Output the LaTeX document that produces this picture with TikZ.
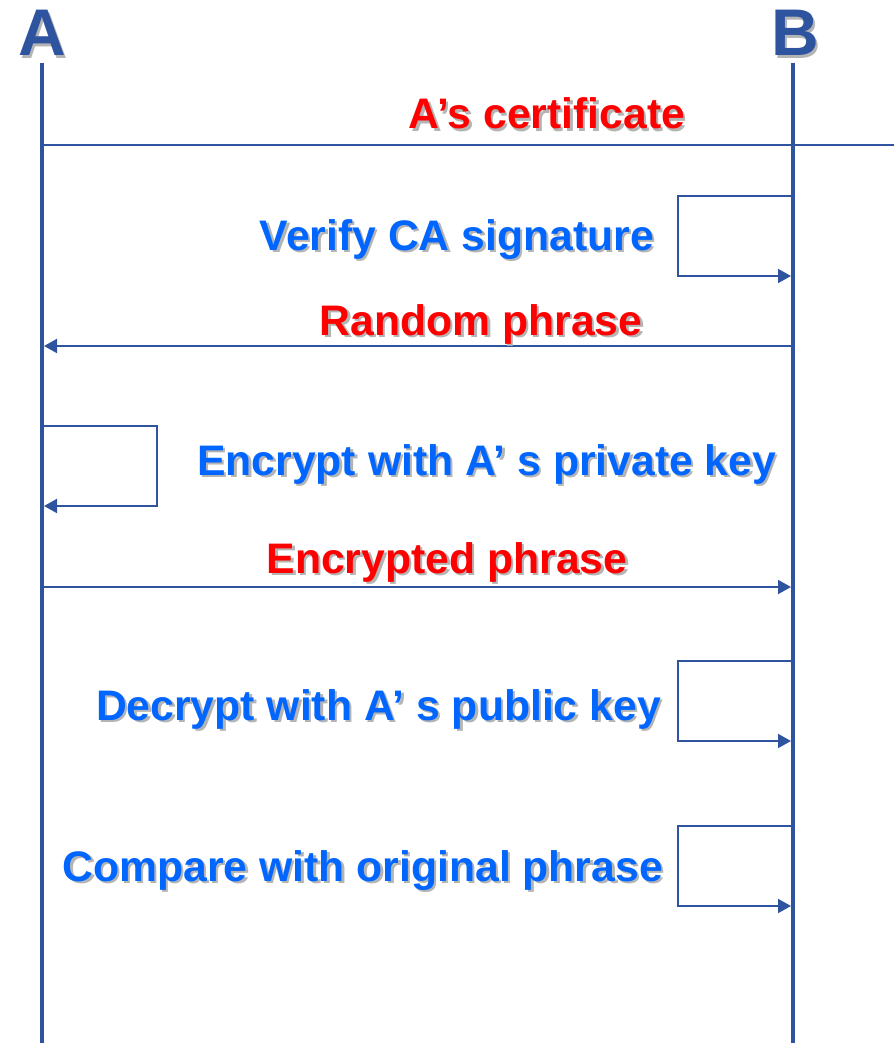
\documentclass[tikz,border=0pt]{standalone}
\usepackage{fontspec}
\setmainfont{Liberation Sans}
\usetikzlibrary{arrows.meta}
\definecolor{lineblue}{RGB}{46,84,160}
\definecolor{textblue}{RGB}{0,102,255}
\definecolor{textred}{RGB}{255,0,0}
\definecolor{shadowgray}{RGB}{180,180,180}
\tikzset{
  lbltext/.style={inner sep=0pt,font=\bfseries\fontsize{42.7}{48}\selectfont},
  headtext/.style={inner sep=0pt,font=\bfseries\fontsize{66}{70}\selectfont},
  lifeline/.style={draw=lineblue,line width=4pt},
  msg/.style={draw=lineblue,line width=2pt},
  msgarrow/.style={msg,-{Triangle[length=13pt,width=14pt]}},
}
\newcommand{\shadowed}[2]{%
  \makebox[0pt][l]{\hspace{2.5pt}\raisebox{-2.5pt}{\textcolor{shadowgray}{#2}}}\textcolor{#1}{#2}}
\newcommand{\lbl}[6]{% name, style, anchor, position, colour, text
  \node[#2,anchor=#3] (#1) at (#4) {\shadowed{#5}{#6}};}
\begin{document}
\begin{tikzpicture}[x=1pt,y=-1pt]
\useasboundingbox (0,0) rectangle (894,1043);
% lifelines
\coordinate (atop) at (42,63);
\coordinate (abot) at (42,1043);
\coordinate (btop) at (793,63);
\coordinate (bbot) at (793,1043);
\draw[lifeline] (atop) -- (abot);
\draw[lifeline] (btop) -- (bbot);
\lbl{hA}{headtext}{base}{42,56}{lineblue}{A}
\lbl{hB}{headtext}{base}{795,56}{lineblue}{B}
% message 1
\coordinate (m1a) at (42,145);
\coordinate (m1e) at (894,145);
\draw[msg] (m1a) -- (m1e);
\lbl{t1}{lbltext}{base}{547,129}{textred}{A’s certificate}
% loop B 1
\coordinate (l1a) at (793,196);
\coordinate (l1b) at (678,196);
\coordinate (l1c) at (678,276);
\coordinate (l1d) at (791,276);
\draw[msgarrow] (l1a) -- (l1b) -- (l1c) -- (l1d);
\lbl{t2}{lbltext}{base east}{654,250}{textblue}{Verify CA signature}
% message 2
\coordinate (m2b) at (793,346);
\coordinate (m2a) at (44,346);
\draw[msgarrow] (m2b) -- (m2a);
\lbl{t3}{lbltext}{base}{481,335}{textred}{Random phrase}
% loop A
\coordinate (la1) at (42,426);
\coordinate (la2) at (157,426);
\coordinate (la3) at (157,506);
\coordinate (la4) at (44,506);
\draw[msgarrow] (la1) -- (la2) -- (la3) -- (la4);
\lbl{t4}{lbltext}{base west}{197,475}{textblue}{Encrypt with A’ s private key}
% message 3
\coordinate (m3a) at (42,587);
\coordinate (m3b) at (791,587);
\draw[msgarrow] (m3a) -- (m3b);
\lbl{t5}{lbltext}{base}{447,573}{textred}{Encrypted phrase}
% loop B 2
\coordinate (l2a) at (793,661);
\coordinate (l2b) at (678,661);
\coordinate (l2c) at (678,741);
\coordinate (l2d) at (791,741);
\draw[msgarrow] (l2a) -- (l2b) -- (l2c) -- (l2d);
\lbl{t6}{lbltext}{base east}{661,720}{textblue}{Decrypt with A’ s public key}
% loop B 3
\coordinate (l3a) at (793,826);
\coordinate (l3b) at (678,826);
\coordinate (l3c) at (678,906);
\coordinate (l3d) at (791,906);
\draw[msgarrow] (l3a) -- (l3b) -- (l3c) -- (l3d);
\lbl{t7}{lbltext}{base east}{663,881}{textblue}{Compare with original phrase}
\end{tikzpicture}
\end{document}
